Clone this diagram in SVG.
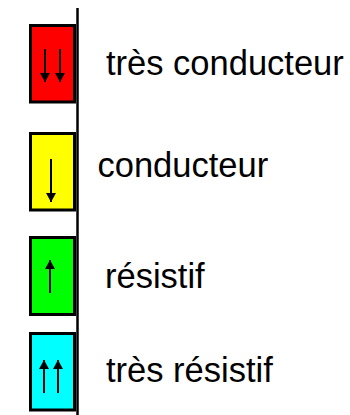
<svg xmlns="http://www.w3.org/2000/svg" width="350" height="415" viewBox="0 0 350 415">
<defs>
<marker id="ah" viewBox="0 0 9 10" refX="9" refY="5" markerWidth="9" markerHeight="10" markerUnits="userSpaceOnUse" orient="auto">
<path d="M0,0 L9,5 L0,10 Z" fill="#000"/>
</marker>
<style>
.box{stroke:#000;stroke-width:3}
.arr{stroke:#000;stroke-width:2;fill:none;marker-end:url(#ah)}
.lbl{font-family:"Liberation Sans",Arial,sans-serif;font-size:34.5px;fill:#000}
</style>
</defs>
<rect width="350" height="415" fill="#fff"/>
<g id="nodes">
<g id="tres-conducteur">
<rect class="box" x="30.5" y="25.5" width="44" height="76.5" fill="#FF0000"/>
<line class="arr" x1="45" y1="49" x2="45" y2="82"/>
<line class="arr" x1="60" y1="49" x2="60" y2="82"/>
<text class="lbl" x="106" y="75">très conducteur</text>
</g>
<g id="conducteur">
<rect class="box" x="30.5" y="133.5" width="44" height="76.5" fill="#FFFF00"/>
<line class="arr" x1="51" y1="159" x2="51" y2="202"/>
<text class="lbl" x="97.5" y="177">conducteur</text>
</g>
<g id="resistif">
<rect class="box" x="30.5" y="237.5" width="44" height="77" fill="#00FF00"/>
<line class="arr" x1="50" y1="293" x2="50" y2="260"/>
<text class="lbl" x="105" y="288">résistif</text>
</g>
<g id="tres-resistif">
<rect class="box" x="30.5" y="333.5" width="44" height="76.5" fill="#00FFFF"/>
<line class="arr" x1="44" y1="393" x2="44" y2="360"/>
<line class="arr" x1="58" y1="393" x2="58" y2="360"/>
<text class="lbl" x="106" y="382">très résistif</text>
</g>
</g>
<g id="connectors">
<line x1="77.5" y1="8" x2="77.5" y2="415" stroke="#000" stroke-width="2.5"/>
</g>
</svg>
